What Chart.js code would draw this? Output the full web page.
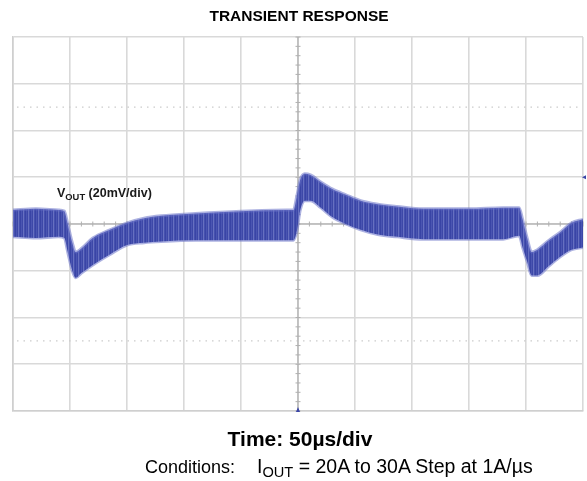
<!DOCTYPE html>
<html>
<head>
<meta charset="utf-8">
<script src="https://cdn.jsdelivr.net/npm/chart.js@4/dist/chart.umd.min.js"></script>
<style>
  html, body { margin: 0; padding: 0; background: #ffffff; }
  #wrap { position: relative; width: 587px; height: 481px; overflow: hidden; font-family: "Liberation Sans", Arial, sans-serif; }
  #c { position: absolute; left: 0; top: 0; }
  .txt { position: absolute; white-space: nowrap; line-height: 1; color: #000; }
  #title { left: 0; width: 598px; text-align: center; top: 8px; font-size: 15.5px; font-weight: bold; }
  #xcap { left: 0; width: 600px; text-align: center; top: 428px; font-size: 21px; font-weight: bold; }
  #cond1 { left: 145px; top: 458px; font-size: 18px; }
  #cond2 { left: 257px; top: 457px; font-size: 19.5px; }
  #vlab { left: 57px; top: 187px; font-size: 12.5px; font-weight: bold; color: #1a1a1a; }
  .sub { font-size: 0.75em; position: relative; top: 0.28em; }
</style>
</head>
<body>
<div id="wrap">
  <canvas id="c" width="587" height="481"></canvas>
  <div class="txt" id="title">TRANSIENT RESPONSE</div>
  <div class="txt" id="vlab">V<span class="sub">OUT</span> (20mV/div)</div>
  <div class="txt" id="xcap">Time: 50µs/div</div>
  <div class="txt" id="cond1">Conditions:</div>
  <div class="txt" id="cond2">I<span class="sub">OUT</span> = 20A to 30A Step at 1A/µs</div>
</div>
<script>
// ---- data (time in µs, VOUT deviation in mV) ----
const timeUs = [0,20,40,45,48,52,55,60,70,85,100,115,130,160,200,240,246,249,252,256,261,270,280,292,305,320,337,360,400,430,444,447,451,455,460,470,480,490,500];
const vUpper = [6,6.5,6,5.5,0,-8,-12,-10.5,-6,-2.5,0.5,2.5,3.5,4.5,5.5,6,6,12,19,21.5,21,18,15,12.5,10,8.5,7.5,6.5,6.5,7,7,2,-6,-12,-11,-7,-3.5,0.5,2];
const vLower = [-5.5,-6,-5.5,-6,-12,-20,-23,-21,-17.5,-13,-9,-8,-7.5,-7,-7,-7,-7,-3,6,10,10,7,3,0,-2.5,-4.5,-5.5,-6.5,-6.5,-6.5,-5,-10,-16,-22,-22,-18,-14,-11,-10];
// scope graticule: 10 x 50µs, 8 x 20mV
const timeRange = [0, 500];
const voltRange = [-80, 80];
const timeDiv = 50;
const voltDiv = 20;
const dottedLevels = [50, -50];
const triggerTime = 250;
const triggerLevel = 20;

const upperPts = timeUs.map((t, i) => ({x: t, y: vUpper[i]}));
const lowerPts = timeUs.map((t, i) => ({x: t, y: vLower[i]}));

const canvas = document.getElementById('c');
const ctx = canvas.getContext('2d');

function stripePattern() {
  const c = document.createElement('canvas');
  c.width = 5; c.height = 7;
  const g = c.getContext('2d');
  const cols = ['#3944a5', '#4a55b2', '#3d48a8', '#6670c0', '#4651af'];
  cols.forEach((col, i) => { g.fillStyle = col; g.fillRect(i, 0, 1, 7); });
  return ctx.createPattern(c, 'repeat');
}

const scopePlugin = {
  id: 'scope',
  beforeDatasetsDraw(chart) {
    const {ctx, chartArea: a, scales: {x, y}} = chart;
    ctx.save();
    ctx.strokeStyle = '#cbcbcb';
    ctx.lineWidth = 1.2;
    ctx.setLineDash([1.5, 5]);
    dottedLevels.forEach(v => {
      const py = y.getPixelForValue(v);
      ctx.beginPath(); ctx.moveTo(a.left + 4, py); ctx.lineTo(a.right - 4, py); ctx.stroke();
    });
    ctx.setLineDash([]);
    const cx = x.getPixelForValue((timeRange[0] + timeRange[1]) / 2);
    const cy = y.getPixelForValue(0);
    ctx.strokeStyle = '#b8b8b8';
    ctx.lineWidth = 1.5;
    ctx.beginPath(); ctx.moveTo(cx, a.top); ctx.lineTo(cx, a.bottom); ctx.stroke();
    ctx.beginPath(); ctx.moveTo(a.left, cy); ctx.lineTo(a.right, cy); ctx.stroke();
    ctx.lineWidth = 1;
    ctx.strokeStyle = '#b0b0b0';
    for (let v = voltRange[0]; v <= voltRange[1]; v += voltDiv / 5) {
      const py = y.getPixelForValue(v);
      ctx.beginPath(); ctx.moveTo(cx - 2.5, py); ctx.lineTo(cx + 2.5, py); ctx.stroke();
    }
    for (let t = timeRange[0]; t <= timeRange[1]; t += timeDiv / 5) {
      const px = x.getPixelForValue(t);
      ctx.beginPath(); ctx.moveTo(px, cy - 2.5); ctx.lineTo(px, cy + 2.5); ctx.stroke();
    }
    ctx.restore();
  },
  afterDatasetsDraw(chart) {
    const {ctx, chartArea: a, scales: {x, y}} = chart;
    ctx.save();
    ctx.fillStyle = '#3a45a6';
    const tx = x.getPixelForValue(triggerTime);
    ctx.beginPath(); ctx.moveTo(tx, a.bottom - 4); ctx.lineTo(tx - 2, a.bottom + 1); ctx.lineTo(tx + 2, a.bottom + 1); ctx.closePath(); ctx.fill();
    const ty = y.getPixelForValue(triggerLevel);
    ctx.beginPath(); ctx.moveTo(a.right - 1, ty); ctx.lineTo(a.right + 3, ty - 2); ctx.lineTo(a.right + 3, ty + 2); ctx.closePath(); ctx.fill();
    ctx.restore();
  }
};

new Chart(canvas, {
  type: 'line',
  data: {
    datasets: [
      {
        label: 'VOUT upper',
        data: upperPts,
        borderColor: 'rgba(105,115,200,0.55)',
        borderWidth: 3,
        pointRadius: 0,
        cubicInterpolationMode: 'monotone',
        backgroundColor: stripePattern(),
        fill: '+1'
      },
      {
        label: 'VOUT lower',
        data: lowerPts,
        borderColor: 'rgba(105,115,200,0.55)',
        borderWidth: 3,
        pointRadius: 0,
        cubicInterpolationMode: 'monotone',
        fill: false
      }
    ]
  },
  options: {
    responsive: false,
    animation: false,
    events: [],
    layout: { padding: { left: 13, top: 37, right: 4, bottom: 70 } },
    plugins: { legend: { display: false }, tooltip: { enabled: false }, title: { display: false } },
    scales: {
      x: {
        type: 'linear',
        min: timeRange[0], max: timeRange[1],
        ticks: { display: false, stepSize: timeDiv },
        grid: { color: '#d9d9d9', lineWidth: 1.6, drawTicks: false },
        border: { display: true, color: '#cfcfcf', width: 1.6 }
      },
      y: {
        type: 'linear',
        min: voltRange[0], max: voltRange[1],
        ticks: { display: false, stepSize: voltDiv },
        grid: { color: '#d9d9d9', lineWidth: 1.6, drawTicks: false },
        border: { display: true, color: '#cfcfcf', width: 1.6 }
      }
    }
  },
  plugins: [scopePlugin]
});
</script>
</body>
</html>
